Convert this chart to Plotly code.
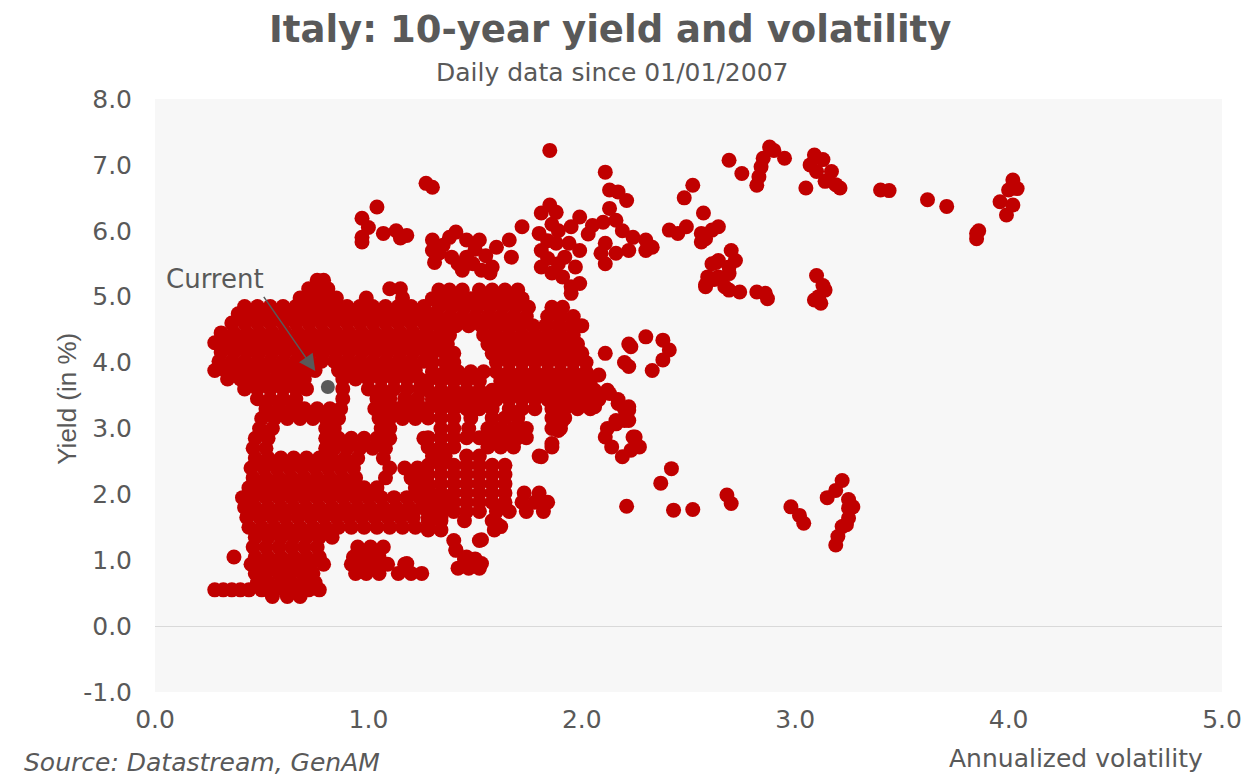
import plotly.graph_objects as go

RED = "#C00000"
GREY = "#595959"
FONT = "DejaVu Sans"

# Low-volatility regime, low yields: (yield level, volatility readings at that level)
low_band_rows = [
    (0.45, [0.55, 0.62, 0.68]),
    (0.55, [0.28, 0.32, 0.36, 0.40, 0.44, 0.50, 0.56, 0.61, 0.66, 0.72, 0.77]),
    (0.66, [0.48, 0.53, 0.59, 0.64, 0.70, 0.75]),
    (0.80, [0.47, 0.52, 0.58, 0.63, 0.69, 0.74, 0.94, 0.99, 1.05, 1.14, 1.20, 1.25]),
    (0.94, [0.45, 0.50, 0.56, 0.61, 0.67, 0.73, 0.79, 0.92, 0.97, 1.03, 1.09, 1.17]),
    (1.05, [0.37, 0.47, 0.53, 0.59, 0.65, 0.71, 0.77, 0.93, 0.99, 1.05]),
    (1.20, [0.46, 0.52, 0.58, 0.64, 0.70, 0.76, 0.95, 1.01, 1.07]),
    (1.35, [0.47, 0.53, 0.59, 0.65, 0.71, 0.77, 0.83]),
    (1.50, [0.44, 0.50, 0.56, 0.62, 0.68, 0.74, 0.80, 0.86, 0.92, 0.98, 1.04, 1.10, 1.16, 1.22, 1.28]),
    (1.65, [0.43, 0.49, 0.55, 0.61, 0.67, 0.73, 0.79, 0.85, 0.91, 0.97, 1.03, 1.09, 1.15, 1.21, 1.28, 1.34]),
    (1.80, [0.42, 0.47, 0.53, 0.59, 0.65, 0.71, 0.77, 0.83, 0.89, 0.95, 1.01, 1.07, 1.13, 1.19, 1.25, 1.31, 1.38]),
    (1.95, [0.41, 0.46, 0.52, 0.58, 0.64, 0.70, 0.76, 0.82, 0.88, 0.94, 1.00, 1.06, 1.12, 1.18, 1.24, 1.30, 1.36]),
    (2.10, [0.44, 0.50, 0.56, 0.62, 0.68, 0.74, 0.80, 0.86, 0.92, 0.98, 1.04, 1.22, 1.28]),
    (2.25, [0.46, 0.52, 0.58, 0.64, 0.70, 0.76, 0.82, 0.88, 0.94, 1.08, 1.20, 1.26]),
    (2.40, [0.45, 0.51, 0.57, 0.63, 0.69, 0.75, 0.81, 0.87, 0.93, 1.10, 1.17, 1.23]),
    (2.55, [0.47, 0.53, 0.59, 0.65, 0.71, 0.77, 0.83, 0.89, 0.95, 1.07]),
    (2.70, [0.46, 0.52, 0.80, 0.84, 0.90, 0.96, 1.02, 1.08]),
    (2.85, [0.47, 0.53, 0.80, 0.86, 0.92, 0.98, 1.04, 1.10, 1.26]),
    (3.00, [0.49, 0.55, 0.80, 0.84, 1.06, 1.10]),
    (3.15, [0.50, 0.56, 0.62, 0.68, 0.74, 0.80, 0.86, 1.05, 1.10, 1.16, 1.22]),
    (3.30, [0.52, 0.58, 0.64, 0.70, 0.76, 0.82, 0.87, 1.03, 1.08, 1.14, 1.20, 1.26]),
]

# Low-volatility regime, 3.5-5% yields
high_band_rows = [
    (3.45, [0.48, 0.54, 0.60, 0.66, 0.88, 1.04, 1.10, 1.17, 1.23]),
    (3.60, [0.42, 0.48, 0.54, 0.60, 0.66, 0.71, 0.88, 1.00, 1.06, 1.12, 1.18, 1.24]),
    (3.75, [0.34, 0.40, 0.46, 0.52, 0.58, 0.64, 0.70, 0.88, 0.94, 1.00, 1.06, 1.12, 1.18, 1.24]),
    (3.88, [0.28, 0.33, 0.39, 0.45, 0.51, 0.57, 0.63, 0.69, 0.75, 0.86, 0.92, 0.98, 1.04, 1.10, 1.16, 1.22]),
    (4.02, [0.30, 0.36, 0.42, 0.48, 0.54, 0.60, 0.66, 0.72, 0.78, 0.84, 0.90, 0.96, 1.02, 1.08, 1.14, 1.20, 1.26]),
    (4.16, [0.31, 0.37, 0.43, 0.49, 0.55, 0.61, 0.67, 0.73, 0.79, 0.85, 0.91, 0.97, 1.03, 1.09, 1.15, 1.21, 1.27]),
    (4.30, [0.28, 0.34, 0.40, 0.46, 0.52, 0.58, 0.64, 0.70, 0.76, 0.82, 0.88, 0.94, 1.00, 1.06, 1.12, 1.18, 1.24, 1.29]),
    (4.45, [0.31, 0.37, 0.43, 0.49, 0.55, 0.61, 0.67, 0.73, 0.79, 0.85, 0.91, 0.97, 1.03, 1.09, 1.15, 1.21, 1.27]),
    (4.60, [0.36, 0.42, 0.48, 0.54, 0.60, 0.66, 0.72, 0.78, 0.84, 0.90, 0.96, 1.02, 1.08, 1.14, 1.20, 1.26, 1.31]),
    (4.74, [0.39, 0.45, 0.51, 0.57, 0.63, 0.69, 0.75, 0.81, 0.87, 0.93, 0.99, 1.05, 1.11, 1.17, 1.23, 1.28]),
    (4.85, [0.42, 0.48, 0.54, 0.60, 0.66, 0.72, 0.78, 0.84, 0.90, 0.96, 1.02, 1.08, 1.14, 1.20, 1.26]),
    (4.98, [0.68, 0.73, 0.79, 0.85, 0.99, 1.16]),
    (5.12, [0.72, 0.77, 0.81, 1.10, 1.15]),
    (5.25, [0.76, 0.79]),
]

# Transition zone, volatility 1.25-2.2
mid_band_rows = [
    (5.10, [1.33, 1.38, 1.44, 1.52, 1.58, 1.64, 1.70]),
    (4.97, [1.30, 1.36, 1.42, 1.48, 1.54, 1.60, 1.66, 1.72]),
    (4.84, [1.33, 1.39, 1.45, 1.51, 1.57, 1.63, 1.69, 1.75, 1.86, 1.91]),
    (4.70, [1.32, 1.38, 1.44, 1.50, 1.56, 1.62, 1.68, 1.74, 1.84, 1.90, 1.96]),
    (4.56, [1.35, 1.41, 1.47, 1.53, 1.59, 1.65, 1.71, 1.77, 1.83, 1.89, 1.95, 2.00]),
    (4.42, [1.33, 1.38, 1.54, 1.60, 1.66, 1.72, 1.78, 1.84, 1.90, 1.96]),
    (4.28, [1.32, 1.37, 1.56, 1.62, 1.68, 1.74, 1.80, 1.86, 1.92, 1.98, 2.22]),
    (4.14, [1.30, 1.36, 1.40, 1.58, 1.64, 1.70, 1.76, 1.82, 1.88, 1.94, 2.00, 2.11]),
    (4.00, [1.30, 1.36, 1.40, 1.60, 1.66, 1.72, 1.78, 1.84, 1.90, 1.96, 2.02, 2.20]),
    (3.86, [1.30, 1.36, 1.42, 1.48, 1.54, 1.60, 1.66, 1.72, 1.78, 1.84, 1.90, 1.96, 2.02]),
    (3.72, [1.28, 1.34, 1.40, 1.46, 1.52, 1.62, 1.68, 1.74, 1.80, 1.86, 1.92, 1.98, 2.04]),
    (3.58, [1.28, 1.34, 1.40, 1.46, 1.52, 1.58, 1.64, 1.70, 1.76, 1.82, 1.88, 1.94, 2.00, 2.06, 2.12]),
    (3.44, [1.30, 1.36, 1.42, 1.48, 1.54, 1.60, 1.66, 1.72, 1.78, 1.84, 1.90, 1.96, 2.02, 2.08, 2.17]),
    (3.30, [1.28, 1.34, 1.40, 1.46, 1.52, 1.58, 1.66, 1.72, 1.78, 1.86, 1.92, 1.98, 2.04, 2.20]),
    (3.16, [1.28, 1.34, 1.40, 1.48, 1.58, 1.64, 1.70, 1.86, 1.92, 2.20]),
    (3.00, [1.34, 1.40, 1.47, 1.56, 1.62, 1.68, 1.74, 1.86, 1.90, 2.12]),
    (2.86, [1.28, 1.34, 1.40, 1.46, 1.52, 1.58, 1.64, 1.70, 1.74]),
    (2.72, [1.28, 1.34, 1.40, 1.56, 1.62, 1.68, 1.86]),
    (2.58, [1.30, 1.36, 1.46, 1.52, 1.80]),
    (2.44, [1.28, 1.34, 1.40, 1.46, 1.52, 1.58, 1.64]),
    (2.30, [1.28, 1.34, 1.40, 1.46, 1.52, 1.58, 1.64]),
    (2.16, [1.28, 1.34, 1.40, 1.46, 1.52, 1.58, 1.64]),
    (2.02, [1.28, 1.34, 1.40, 1.46, 1.52, 1.58, 1.64, 1.73, 1.80]),
    (1.88, [1.28, 1.34, 1.40, 1.46, 1.52, 1.58, 1.64, 1.72, 1.78, 1.84]),
    (1.74, [1.28, 1.34, 1.40, 1.46, 1.52, 1.60, 1.66, 1.74, 1.82]),
    (1.60, [1.28, 1.34, 1.45, 1.58]),
    (1.46, [1.28, 1.34, 1.59]),
    (1.30, [1.40, 1.52]),
    (1.16, [1.41]),
    (1.02, [1.45, 1.50]),
    (0.88, [1.42, 1.47, 1.52]),
]

# Isolated readings: crisis years and scattered days
crisis_vol = [
    1.85, 1.27, 1.30, 1.04, 0.97, 1.00, 0.97, 0.97, 1.07, 1.13, 1.15, 1.18,
    1.30, 1.38, 1.41, 1.46, 1.52, 1.60, 1.33, 1.39, 1.46, 1.49, 1.44, 1.58, 1.57, 1.66, 1.67,
    1.35, 1.50, 1.55, 1.42, 1.53, 1.30, 1.31,
    1.72, 1.85, 1.81, 1.88, 1.99, 1.95, 1.80, 1.89, 1.81, 1.88, 1.94, 1.99, 1.81, 1.86, 1.91,
    1.89, 1.95, 1.99, 1.95, 1.84, 1.92, 1.84, 1.97, 1.86,
    2.05, 2.10, 2.16, 2.19, 2.24, 2.11, 2.09, 2.11, 2.16, 2.22, 2.30, 2.33, 2.30, 2.03,
    2.11, 2.13, 2.17, 2.21, 2.13,
    2.41, 2.45, 2.49, 2.56, 2.61, 2.56, 2.64, 2.58,
    2.52, 2.48, 2.57,
    2.63, 2.64, 2.58, 2.62,
    2.70, 2.64, 2.72, 2.61, 2.69, 2.69, 2.59, 2.58, 2.67, 2.74, 2.69,
    2.82, 2.86, 2.87,
    3.10, 3.13, 3.14, 3.11, 3.09, 3.12,
    2.69, 2.75,
    2.88, 2.90, 2.85, 2.84, 2.83, 2.82, 2.95,
    3.09, 3.13, 3.07, 3.10, 3.17, 3.14, 3.19, 3.21, 3.05,
    3.40, 3.44, 3.62, 3.71,
    4.02, 4.04, 4.00, 3.96, 4.02, 3.99,
    3.85, 3.86, 3.85,
]
crisis_yld = [
    7.22, 6.72, 6.66, 6.36, 6.19, 6.05, 5.90, 5.83, 5.96, 6.00, 5.89, 5.93,
    5.86, 5.90, 5.98, 5.86, 5.86, 5.75, 5.66, 5.60, 5.60, 5.50, 5.40, 5.45, 5.36, 5.86, 5.60,
    5.78, 5.72, 5.62, 5.50, 5.40, 5.70, 5.52,
    6.06, 6.39, 6.27, 6.28, 6.21, 6.06, 5.96, 6.00, 5.70, 5.81, 5.81, 5.70, 5.45, 5.36, 5.30,
    5.50, 5.15, 5.20, 5.05, 5.58, 5.60, 5.85, 5.45, 6.10,
    6.08, 6.13, 6.16, 6.00, 5.90, 5.81, 5.66, 5.50, 5.66, 5.70, 5.86, 5.75, 5.70, 5.95,
    6.89, 6.62, 6.59, 6.46, 6.34,
    6.01, 5.96, 6.06, 5.96, 6.01, 5.83, 6.06, 5.88,
    6.69, 6.50, 6.27,
    5.52, 5.30, 5.18, 5.26,
    5.70, 5.55, 5.55, 5.50, 5.45, 5.35, 5.30, 5.15, 5.15, 5.07, 5.10,
    5.07, 5.05, 4.97,
    5.32, 5.17, 5.10, 5.00, 4.95, 4.90,
    7.07, 6.87,
    7.27, 7.22, 7.10, 6.97, 6.82, 6.69, 7.10,
    7.15, 7.08, 7.00, 6.90, 6.90, 6.75, 6.70, 6.65, 6.65,
    6.62, 6.61, 6.47, 6.37,
    6.77, 6.64, 6.62, 6.44, 6.39, 6.24,
    5.96, 6.00, 5.88,
]

# Scattered readings at mid and low yields
scatter_vol = [
    2.23, 2.30, 2.38, 2.41, 2.38, 2.33, 2.22,
    2.08, 2.13, 2.17, 2.22, 2.22, 2.16, 2.24, 2.11,
    2.14, 2.19, 2.23, 2.25, 2.27, 2.16, 2.22, 2.20,
    2.42, 2.37, 2.21, 2.43, 2.52,
    2.68, 2.70,
    2.98, 3.02, 3.04,
    3.15, 3.19, 3.22,
    3.25, 3.27, 3.25, 3.25, 3.24, 3.22, 3.20, 3.19,
    1.60, 1.62, 1.53, 1.41, 1.46, 1.50, 1.53,
    1.18, 1.18,
    1.81, 1.86, 1.89, 1.91, 1.89, 1.98, 2.06, 2.02,
]
scatter_yld = [
    4.24, 4.39, 4.34, 4.19, 4.04, 3.88, 3.94,
    3.81, 3.53, 3.38, 3.33, 3.12, 3.07, 2.87, 2.87,
    2.72, 2.57, 2.67, 2.87, 2.72, 3.12, 3.28, 3.12,
    2.39, 2.17, 1.82, 1.76, 1.77,
    1.99, 1.86,
    1.81, 1.68, 1.56,
    1.95, 2.06, 2.21,
    1.92, 1.81, 1.79, 1.64, 1.54, 1.51, 1.36, 1.23,
    1.56, 1.51, 1.31, 1.15, 1.05, 0.95, 0.95,
    0.95, 0.85,
    2.57, 2.77, 2.97, 3.12, 3.28, 3.33, 3.33, 3.38,
]

# Latest observation
current_vol = [0.81]
current_yld = [3.63]

x_ticks = [0.0, 1.0, 2.0, 3.0, 4.0, 5.0]
y_ticks = [-1.0, 0.0, 1.0, 2.0, 3.0, 4.0, 5.0, 6.0, 7.0, 8.0]


def flatten(rows):
    xs, ys = [], []
    for level, vols in rows:
        for v in vols:
            xs.append(v)
            ys.append(level)
    return xs, ys


vol, yld = [], []
for rows in (low_band_rows, high_band_rows, mid_band_rows):
    xs, ys = flatten(rows)
    vol += xs
    yld += ys
vol += crisis_vol + scatter_vol
yld += crisis_yld + scatter_yld

fig = go.Figure()
fig.add_trace(go.Scatter(
    x=vol, y=yld, mode="markers",
    marker=dict(size=15, color=RED, line=dict(width=0)),
    hoverinfo="skip", showlegend=False,
))
fig.add_trace(go.Scatter(
    x=current_vol, y=current_yld, mode="markers",
    marker=dict(size=14, color=GREY, line=dict(width=0)),
    hoverinfo="skip", showlegend=False,
))

tick_font = dict(family=FONT, size=25, color=GREY)

fig.update_layout(
    width=1254, height=777,
    margin=dict(l=155, r=29, t=99, b=85),
    paper_bgcolor="white",
    plot_bgcolor="#F7F7F7",
    xaxis=dict(
        range=[0, 5], tickvals=x_ticks, ticktext=[f"{v:.1f}" for v in x_ticks],
        showgrid=False, zeroline=False, showline=False, ticks="",
        tickfont=tick_font, ticklabelstandoff=10,
    ),
    yaxis=dict(
        range=[-1, 8], tickvals=y_ticks, ticktext=[f"{v:.1f}" for v in y_ticks],
        showgrid=False, zeroline=True, zerolinecolor="#D9D9D9", zerolinewidth=1,
        showline=False, ticks="", tickfont=tick_font, ticklabelstandoff=22,
    ),
    annotations=[
        dict(text="<b>Italy: 10-year yield and volatility</b>", xref="paper", yref="paper",
             x=0.4266, y=1.1164, xanchor="center", yanchor="middle", showarrow=False,
             font=dict(family=FONT, size=37, color=GREY)),
        dict(text="Daily data since 01/01/2007", xref="paper", yref="paper",
             x=0.4285, y=1.0455, xanchor="center", yanchor="middle", showarrow=False,
             font=dict(family=FONT, size=25, color=GREY)),
        dict(text="Yield (in %)", xref="paper", yref="paper", textangle=-90,
             x=-0.0822, y=0.495, xanchor="center", yanchor="middle", showarrow=False,
             font=dict(family="Liberation Sans", size=26, color=GREY)),
        dict(text="Annualized volatility", xref="paper", yref="paper",
             x=0.8636, y=-0.1113, xanchor="center", yanchor="middle", showarrow=False,
             font=dict(family=FONT, size=25, color=GREY)),
        dict(text="<i>Source: Datastream, GenAM</i>", xref="paper", yref="paper",
             x=-0.1243, y=-0.1197, xanchor="left", yanchor="middle", showarrow=False,
             font=dict(family=FONT, size=25, color=GREY)),
        dict(text="Current", xref="x", yref="y", x=0.28, y=5.27,
             xanchor="center", yanchor="middle", showarrow=False,
             font=dict(family=FONT, size=26, color=GREY)),
        dict(text="", xref="x", yref="y", x=0.751, y=3.87,
             axref="x", ayref="y", ax=0.505, ay=5.02,
             showarrow=True, arrowhead=2, arrowsize=2.2, arrowwidth=1.5,
             arrowcolor=GREY, standoff=0),
    ],
)

fig.write_html("out.html")
